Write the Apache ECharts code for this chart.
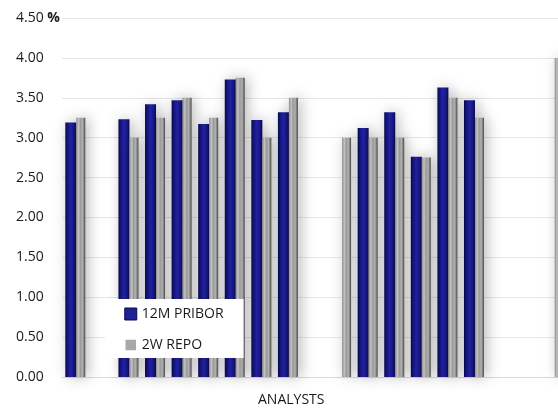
<!DOCTYPE html>
<html>
<head>
<meta charset="utf-8">
<script src="https://cdn.jsdelivr.net/npm/echarts@6/dist/echarts.min.js"></script>
<style>
  html, body { margin: 0; padding: 0; background: #ffffff; }
  #chart { width: 558px; height: 415px; }
</style>
</head>
<body>
<div id="chart"></div>
<script>
// Analyst slots along the x axis (blank slots keep the gaps between groups)
const categories = ['1', '2', '3', '4', '5', '6', '7', '8', '9', '10',
                    '11', '12', '13', '14', '15', '16', '17', '18', '19'];

// 12M PRIBOR forecasts, %
const pribor = [3.19, null, 3.23, 3.42, 3.47, 3.17, 3.73, 3.22, 3.32, null,
                null, 3.12, 3.32, 2.76, 3.63, 3.47, null, null, null];

// 2W REPO forecasts, %
const repo = [3.25, null, 3.00, 3.25, 3.50, 3.25, 3.75, 3.00, 3.50, null,
              3.00, 3.00, 3.00, 2.75, 3.50, 3.25, null, null, 4.00];

const yTicks = { min: 0, max: 4.5, step: 0.5 };

const FONT = '"Open Sans", "Noto Sans", sans-serif';

// bevelled look for the bars: dark edges, lighter middle
const blueFill = new echarts.graphic.LinearGradient(0, 0, 1, 0, [
  { offset: 0, color: '#08084e' },
  { offset: 0.2, color: '#141480' },
  { offset: 0.5, color: '#2323a6' },
  { offset: 0.85, color: '#14147a' },
  { offset: 1, color: '#070744' }
]);

const greyFill = new echarts.graphic.LinearGradient(0, 0, 1, 0, [
  { offset: 0, color: '#8a8a8a' },
  { offset: 0.25, color: '#c4c4c4' },
  { offset: 0.45, color: '#9a9a9a' },
  { offset: 0.7, color: '#b0b0b0' },
  { offset: 1, color: '#4a4a4a' }
]);

const chart = echarts.init(document.getElementById('chart'), null, { renderer: 'canvas' });

chart.setOption({
  animation: false,
  backgroundColor: '#ffffff',
  textStyle: { fontFamily: FONT },
  // plot area runs past the right edge of the page; the last slot is cut off
  grid: {
    left: 62, width: 505, top: 18, bottom: 38,
    containLabel: false,
    outerBoundsMode: 'none'
  },
  legend: {
    orient: 'vertical',
    left: 105,
    top: 299,
    z: 20,
    backgroundColor: '#ffffff',
    padding: [8, 20, 6, 19],
    itemGap: 17,
    itemWidth: 12,
    itemHeight: 12,
    icon: 'rect',
    textStyle: { fontFamily: FONT, fontSize: 14, color: '#1a1a1a', lineHeight: 12 },
    data: [
      { name: '12M PRIBOR', itemStyle: { color: '#1f1f96', borderColor: '#0a0a4c', borderWidth: 1 } },
      { name: '2W REPO', itemStyle: { color: '#a8a8a8', borderColor: '#ffffff', borderWidth: 1.5 } }
    ]
  },
  xAxis: {
    type: 'category',
    data: categories,
    axisLine: { show: true, lineStyle: { color: '#d9d9d9', width: 1 } },
    axisTick: { show: false },
    axisLabel: { show: false },
    splitLine: { show: false }
  },
  yAxis: {
    type: 'value',
    min: yTicks.min,
    max: yTicks.max,
    interval: yTicks.step,
    axisLine: { show: false },
    axisTick: { show: false },
    splitLine: { show: true, lineStyle: { color: '#e6e6e6', width: 1 } },
    axisLabel: {
      align: 'left',
      margin: 46,
      fontFamily: FONT,
      fontSize: 14,
      color: '#1a1a1a',
      formatter: v => (v === yTicks.max ? v.toFixed(2) + ' {p|%}' : v.toFixed(2)),
      rich: { p: { fontFamily: FONT, fontSize: 14, fontWeight: 'bold', color: '#1a1a1a' } }
    }
  },
  graphic: [
    {
      type: 'text',
      left: 258,
      top: 393,
      style: { text: 'ANALYSTS', font: '14px ' + FONT, fill: '#1a1a1a' }
    }
  ],
  series: [
    {
      name: '12M PRIBOR',
      type: 'bar',
      data: pribor,
      barWidth: 11,
      barGap: '0%',
      itemStyle: {
        color: blueFill,
        shadowColor: 'rgba(0,0,0,0.28)',
        shadowBlur: 14,
        shadowOffsetX: 3
      }
    },
    {
      name: '2W REPO',
      type: 'bar',
      data: repo,
      barWidth: 9,
      barGap: '0%',
      itemStyle: {
        color: greyFill,
        shadowColor: 'rgba(0,0,0,0.28)',
        shadowBlur: 14,
        shadowOffsetX: 3
      }
    }
  ]
});
</script>
</body>
</html>
